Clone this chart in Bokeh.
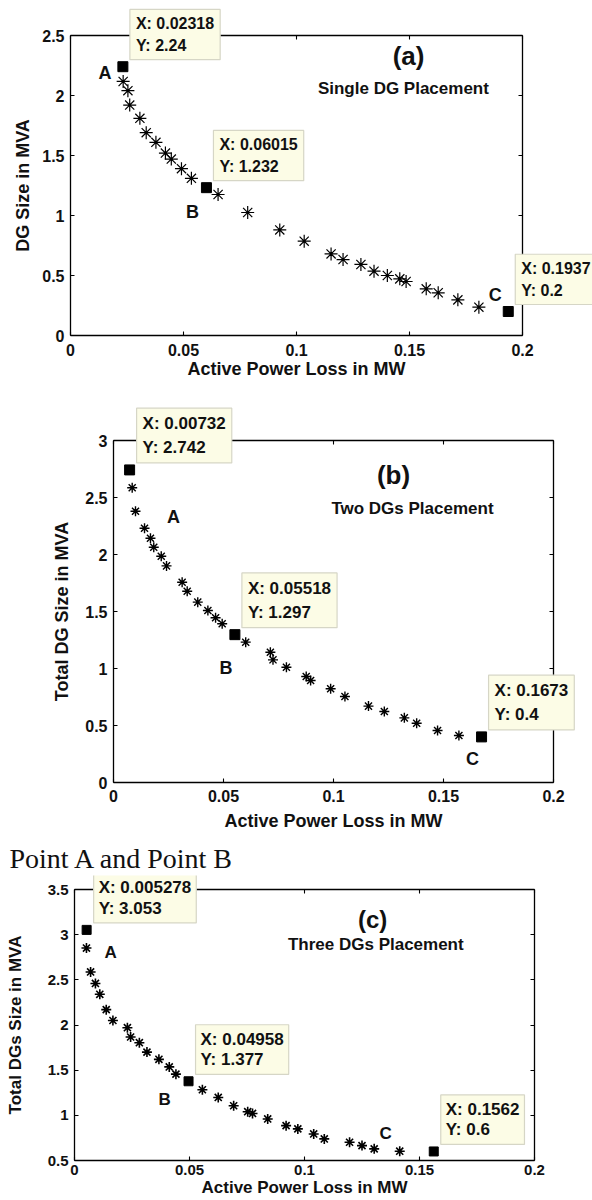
from bokeh.plotting import figure
from bokeh.models import Label, LinearAxis, FixedTicker, Range1d
from bokeh.layouts import column
from bokeh.embed import file_html
from bokeh.resources import INLINE

# ---------------- data ----------------
x_ticks = [0, 0.05, 0.1, 0.15, 0.2]
x_tick_labels = ["0", "0.05", "0.1", "0.15", "0.2"]

# (a) Single DG placement
a_loss = [0.0233, 0.0254, 0.0262, 0.0307, 0.0335, 0.0378, 0.0420, 0.0446, 0.0491, 0.0535,
          0.0653, 0.0784, 0.0926, 0.1034, 0.1153, 0.1206, 0.1285, 0.1343, 0.1402, 0.1457,
          0.1485, 0.1574, 0.1627, 0.1714, 0.1807]
a_size = [2.117, 2.04, 1.92, 1.81, 1.69, 1.61, 1.52, 1.47, 1.39, 1.31,
          1.175, 1.025, 0.88, 0.786, 0.68, 0.633, 0.592, 0.536, 0.50, 0.472,
          0.45, 0.389, 0.356, 0.297, 0.236]
a_key_loss = [0.02318, 0.06015, 0.1937]
a_key_size = [2.24, 1.232, 0.2]
a_y_ticks = [0, 0.5, 1, 1.5, 2, 2.5]
a_y_tick_labels = ["0", "0.5", "1", "1.5", "2", "2.5"]

# (b) Two DGs placement
b_loss = [0.0085, 0.0100, 0.0141, 0.0168, 0.0183, 0.0217, 0.0241, 0.0312, 0.0335, 0.0383,
          0.0429, 0.0464, 0.0494, 0.0601, 0.0713, 0.0725, 0.0786, 0.0876, 0.0896, 0.0987,
          0.1052, 0.1159, 0.1231, 0.1322, 0.1378, 0.1473, 0.1570]
b_size = [2.585, 2.38, 2.23, 2.143, 2.064, 1.985, 1.90, 1.757, 1.678, 1.582,
          1.509, 1.445, 1.392, 1.231, 1.143, 1.076, 1.011, 0.93, 0.895, 0.822,
          0.754, 0.67, 0.623, 0.567, 0.52, 0.456, 0.412]
b_key_loss = [0.00732, 0.05518, 0.1673]
b_key_size = [2.742, 1.297, 0.4]
b_y_ticks = [0, 0.5, 1, 1.5, 2, 2.5, 3]
b_y_tick_labels = ["0", "0.5", "1", "1.5", "2", "2.5", "3"]

# (c) Three DGs placement
c_loss = [0.0052, 0.0070, 0.0091, 0.0110, 0.0138, 0.0167, 0.0230, 0.0244, 0.0282, 0.0315,
          0.0367, 0.0412, 0.0441, 0.0556, 0.0625, 0.0692, 0.0753, 0.0774, 0.0840, 0.0920,
          0.0971, 0.1040, 0.1086, 0.1196, 0.1250, 0.1303, 0.1414]
c_size = [2.852, 2.587, 2.46, 2.34, 2.17, 2.05, 1.97, 1.867, 1.804, 1.70,
          1.62, 1.536, 1.456, 1.283, 1.198, 1.106, 1.04, 1.021, 0.96, 0.886,
          0.85, 0.794, 0.739, 0.702, 0.665, 0.629, 0.603]
c_key_loss = [0.005278, 0.04958, 0.1562]
c_key_size = [3.053, 1.377, 0.6]
c_y_ticks = [0.5, 1, 1.5, 2, 2.5, 3, 3.5]
c_y_tick_labels = ["0.5", "1", "1.5", "2", "2.5", "3", "3.5"]

point_names = ["A", "B", "C"]

FONT = "Liberation Sans"
W = 592
X_MIN, X_MAX = x_ticks[0], x_ticks[-1]


def style_axis(ax, tick_fs, lab_fs):
    ax.major_label_text_font = FONT
    ax.major_label_text_font_style = "bold"
    ax.major_label_text_font_size = tick_fs
    ax.major_label_text_color = "#111111"
    ax.axis_label_text_font = FONT
    ax.axis_label_text_font_style = "bold"
    ax.axis_label_text_font_size = lab_fs
    ax.axis_label_text_color = "#111111"
    ax.major_tick_in = 4
    ax.major_tick_out = 0
    ax.minor_tick_line_color = None
    ax.axis_line_color = "black"
    ax.axis_line_width = 1.3
    ax.major_tick_line_color = "black"
    ax.major_tick_line_width = 1.1


def make_panel(height, box, yticks, ylabels, ylab, loss, size, kloss, ksize,
               star_size, star_w, sq_size, tick_fs, lab_fs, tip_fs, letter_offsets,
               tag, sub, tag_pos, sub_pos, tag_fs, sub_fs, stand, tip_lh, tip_pad):
    left, right, top, bottom = box          # pixel box of the axes inside the canvas
    y_min, y_max = yticks[0], yticks[-1]
    sx = (right - left) / (X_MAX - X_MIN)
    sy = (bottom - top) / (y_max - y_min)
    xr = Range1d(X_MIN - left / sx, X_MAX + (W - right) / sx)
    yr = Range1d(y_min - (height - bottom) / sy, y_max + top / sy)

    p = figure(width=W, height=height, output_backend="svg", toolbar_location=None,
               x_range=xr, y_range=yr, title=None,
               min_border=0, min_border_top=0, min_border_bottom=0,
               min_border_left=0, min_border_right=0)
    p.grid.visible = False
    p.outline_line_color = None
    p.background_fill_color = "white"
    p.border_fill_color = "white"

    xa = p.below[0]
    ya = p.left[0]
    xa.ticker = FixedTicker(ticks=x_ticks)
    xa.major_label_overrides = dict(zip(x_ticks, x_tick_labels))
    ya.ticker = FixedTicker(ticks=yticks)
    ya.major_label_overrides = dict(zip(yticks, ylabels))
    xa.axis_label = "Active Power Loss in MW"
    ya.axis_label = ylab
    xa.fixed_location = y_min
    ya.fixed_location = X_MIN
    xa.bounds = (X_MIN, X_MAX)
    ya.bounds = (y_min, y_max)
    style_axis(xa, tick_fs, lab_fs)
    style_axis(ya, tick_fs, lab_fs)
    xa.major_label_standoff = stand[0]
    xa.axis_label_standoff = stand[1]
    ya.major_label_standoff = stand[2]
    ya.axis_label_standoff = stand[3]

    # box-style ticks on top and right (no labels drawn)
    rax = LinearAxis(ticker=FixedTicker(ticks=yticks), fixed_location=X_MAX,
                     bounds=(y_min, y_max))
    tax = LinearAxis(ticker=FixedTicker(ticks=x_ticks), fixed_location=y_max,
                     bounds=(X_MIN, X_MAX))
    for ax in (rax, tax):
        style_axis(ax, tick_fs, lab_fs)
        ax.major_label_text_color = None
        ax.axis_label = None
        ax.major_label_standoff = 0
    p.add_layout(rax, "right")
    p.add_layout(tax, "above")

    p.scatter(loss, size, marker="asterisk", size=star_size, line_color="black",
              line_width=star_w)
    p.scatter(kloss, ksize, marker="square", size=sq_size, fill_color="black",
              line_color="black")

    for name, xv, yv, (dx, dy) in zip(point_names, kloss, ksize, letter_offsets):
        p.add_layout(Label(x=xv, y=yv, x_offset=dx, y_offset=dy, text=name,
                           text_align="center", text_baseline="middle",
                           text_font=FONT, text_font_style="bold",
                           text_font_size=lab_fs, text_color="#111111"))
        p.add_layout(Label(x=xv, y=yv, x_offset=7, y_offset=7,
                           text=f"X: {xv}\nY: {yv}",
                           text_align="left", text_baseline="bottom",
                           text_font=FONT, text_font_style="bold",
                           text_font_size=tip_fs, text_color="#111111",
                           text_line_height=tip_lh,
                           background_fill_color="#FCFCE6",
                           border_line_color="#D6D6C6", border_line_width=1.2,
                           padding=tip_pad))

    p.add_layout(Label(x=tag_pos[0], y=tag_pos[1], text=tag, text_align="center",
                       text_baseline="middle", text_font=FONT, text_font_style="bold",
                       text_font_size=tag_fs, text_color="#111111"))
    p.add_layout(Label(x=sub_pos[0], y=sub_pos[1], text=sub, text_align="center",
                       text_baseline="middle", text_font=FONT, text_font_style="bold",
                       text_font_size=sub_fs, text_color="#111111"))
    return p


pa = make_panel(385, (70, 522, 35, 335), a_y_ticks, a_y_tick_labels,
                "DG Size in MVA", a_loss, a_size, a_key_loss, a_key_size,
                13, 1.2, 10, "16px", "18px", "16px",
                [(-18, -6), (-14, -24), (-13, 17)],
                "(a)", "Single DG Placement", (0.1496, 2.33), (0.1473, 2.06),
                "26px", "17px", (8, 0, 6, 6), 1.25, 6)

pb = make_panel(490, (113, 553, 55, 397), b_y_ticks, b_y_tick_labels,
                "Total DG Size in MVA", b_loss, b_size, b_key_loss, b_key_size,
                10, 1.4, 10, "16px", "18px", "17px",
                [(44, -47), (-9, -33), (-9, -22)],
                "(b)", "Two DGs Placement", (0.1273, 2.693), (0.1359, 2.404),
                "26px", "17px", (7, 6, 6, 10), 1.25, 6)
pb.add_layout(Label(x=9, y=17, x_units="screen", y_units="screen",
                    text="Point A and Point B", text_align="left", text_baseline="middle",
                    text_font="Liberation Serif", text_font_size="28px",
                    text_color="#111111"))

pc = make_panel(325, (74, 534, 14, 285), c_y_ticks, c_y_tick_labels,
                "Total DGs Size in MVA", c_loss, c_size, c_key_loss, c_key_size,
                10, 1.6, 9, "15px", "17px", "17px",
                [(24, -23), (-24, -18), (-48, 18)],
                "(c)", "Three DGs Placement", (0.1296, 3.168), (0.131, 2.893),
                "24px", "17px", (4, 0, 6, 20), 1.08, 5)

layout = column(pa, pb, pc, spacing=0)
open("out.html", "w").write(file_html(layout, INLINE))
